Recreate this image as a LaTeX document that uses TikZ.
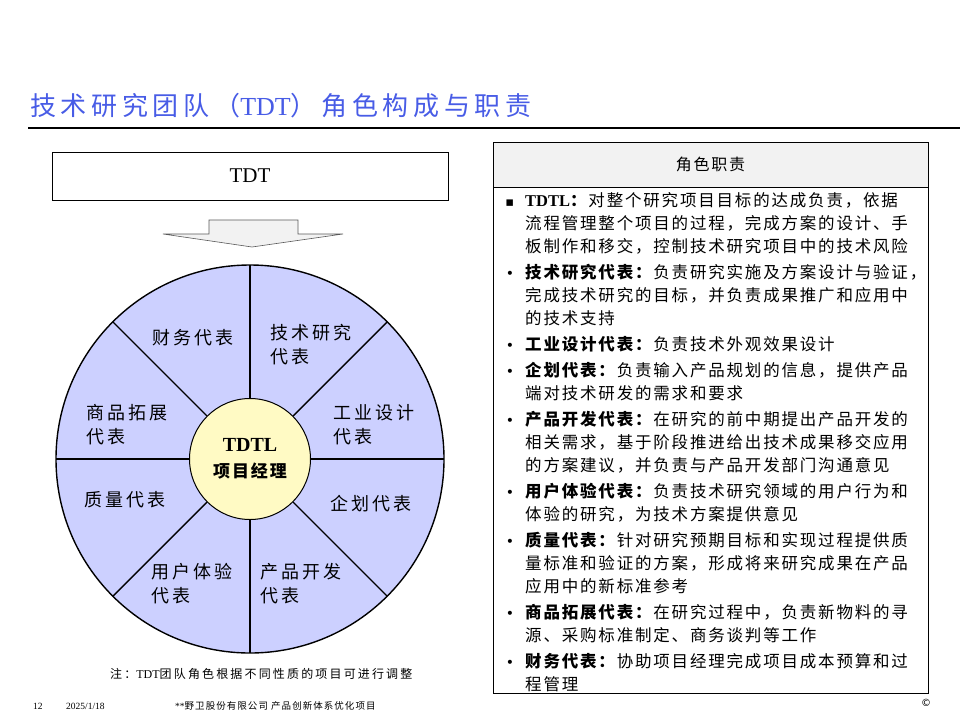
\documentclass[tikz,border=0pt]{standalone}
\usepackage{fontspec}
\setmainfont{Liberation Serif}
\newfontfamily\cjk[LetterSpace=11]{Noto Sans CJK SC}
\newfontfamily\cjkw[LetterSpace=18]{Noto Sans CJK SC}
\newfontfamily\sym{DejaVu Sans}
\usetikzlibrary{positioning,calc}

\definecolor{titleblue}{RGB}{72,92,230}
\definecolor{sectorblue}{RGB}{204,208,255}
\definecolor{hubyellow}{RGB}{255,250,196}
\definecolor{headgray}{RGB}{242,242,242}

\newcommand\sqbul{\llap{{\sym\fontsize{13}{13}\selectfont ▪}\hspace{11pt}}}
\newcommand\dotbul{\llap{{\sym\fontsize{14}{14}\selectfont •}\hspace{11pt}}}

\begin{document}
\begin{tikzpicture}[x=1pt,y=-1pt,
  wheel/.style={draw,circle,line width=1.4pt,fill=sectorblue,minimum size=388pt,inner sep=0pt,outer sep=0pt},
  hub/.style={draw,circle,line width=1pt,fill=hubyellow,minimum size=121pt,inner sep=0pt,align=center},
  spoke/.style={line width=1.4pt},
  role/.style={font=\fontsize{18}{24}\selectfont\cjkw,align=left,inner sep=0pt,anchor=west},
  panel/.style={draw,line width=0.8pt,minimum width=435pt,inner sep=0pt,outer sep=0pt},
  duty/.style={font=\fontsize{16.5}{23}\selectfont\cjk,align=left,inner sep=0pt},
  foot/.style={font=\fontsize{9.5}{11}\selectfont,inner sep=0pt,anchor=west}
]
\useasboundingbox (0,0) rectangle (960,720);

% ---- title ----
\node[anchor=west,inner sep=0pt,text=titleblue,font=\fontsize{26}{30}\selectfont] (title) at (30,106)
  {{\cjkw 技术研究团队（}TDT{\cjkw ）角色构成与职责}};
\draw[line width=1.5pt] (28,128) -- (960,128);

% ---- left : team wheel ----
\node[draw,line width=0.8pt,minimum width=396pt,minimum height=48pt,font=\fontsize{21}{24}\selectfont] (tdt) at (250,176) {TDT};
\draw[gray!70!black,fill=headgray,line width=0.6pt]
  (209,220) -- (298,220) -- (298,234) -- (343,234) -- (252,247) -- (163,234) -- (209,234) -- cycle;

\node[wheel] (wheel) at (250,459) {};
\foreach \a in {0,45,...,315}
  \draw[spoke] (wheel.center) -- (wheel.\a);
\node[hub,font=\fontsize{20}{26}\selectfont] (hub) at (wheel.center)
  {\bfseries TDTL\\{\cjk\bfseries\fontsize{17}{26}\selectfont 项目经理}};

\node[role,anchor=center] (fin) at (193,338) {财务代表};
\node[role] (tech) at (270,345) {技术研究\\代表};
\node[role] (com)  at (86,425)  {商品拓展\\代表};
\node[role] (ind)  at (333,425) {工业设计\\代表};
\node[role] (qua)  at (84,500)  {质量代表};
\node[role] (plan) at (330,504) {企划代表};
\node[role] (ux)   at (151,584) {用户体验\\代表};
\node[role] (dev)  at (260,584) {产品开发\\代表};

\node[anchor=west,inner sep=0pt,font=\fontsize{12}{14}\selectfont] (note) at (110,674)
  {{\cjkw 注：}TDT{\cjkw 团队角色根据不同性质的项目可进行调整}};

% ---- right : duties table ----
\node[panel,fill=headgray,minimum height=45pt,font=\fontsize{16}{20}\selectfont\cjk] (head) at (710.5,164.5) {角色职责};
\node[panel,minimum height=506pt,below=0pt of head] (body) {};

\node[duty,anchor=north west] (duties) at (525,192) {%
\sqbul{\rmfamily\bfseries TDTL}\textbf{：}对整个研究项目目标的达成负责，依据\\
流程管理整个项目的过程，完成方案的设计、手\\
板制作和移交，控制技术研究项目中的技术风险\\[3pt]
\dotbul\textbf{技术研究代表：}负责研究实施及方案设计与验证，\\
完成技术研究的目标，并负责成果推广和应用中\\
的技术支持\\[3pt]
\dotbul\textbf{工业设计代表：}负责技术外观效果设计\\[3pt]
\dotbul\textbf{企划代表：}负责输入产品规划的信息，提供产品\\
端对技术研发的需求和要求\\[3pt]
\dotbul\textbf{产品开发代表：}在研究的前中期提出产品开发的\\
相关需求，基于阶段推进给出技术成果移交应用\\
的方案建议，并负责与产品开发部门沟通意见\\[3pt]
\dotbul\textbf{用户体验代表：}负责技术研究领域的用户行为和\\
体验的研究，为技术方案提供意见\\[3pt]
\dotbul\textbf{质量代表：}针对研究预期目标和实现过程提供质\\
量标准和验证的方案，形成将来研究成果在产品\\
应用中的新标准参考\\[3pt]
\dotbul\textbf{商品拓展代表：}在研究过程中，负责新物料的寻\\
源、采购标准制定、商务谈判等工作\\[3pt]
\dotbul\textbf{财务代表：}协助项目经理完成项目成本预算和过\\
程管理};

% ---- footer ----
\node[foot] (page) at (33,706) {12};
\node[foot] (date) at (66,706) {2025/1/18};
\node[foot] (corp) at (175,706) {**{\cjk 野卫股份有限公司 产品创新体系优化项目}};
\node[inner sep=0pt,font=\sym\fontsize{10}{10}\selectfont] (copy) at (926,703) {©};
\end{tikzpicture}
\end{document}
